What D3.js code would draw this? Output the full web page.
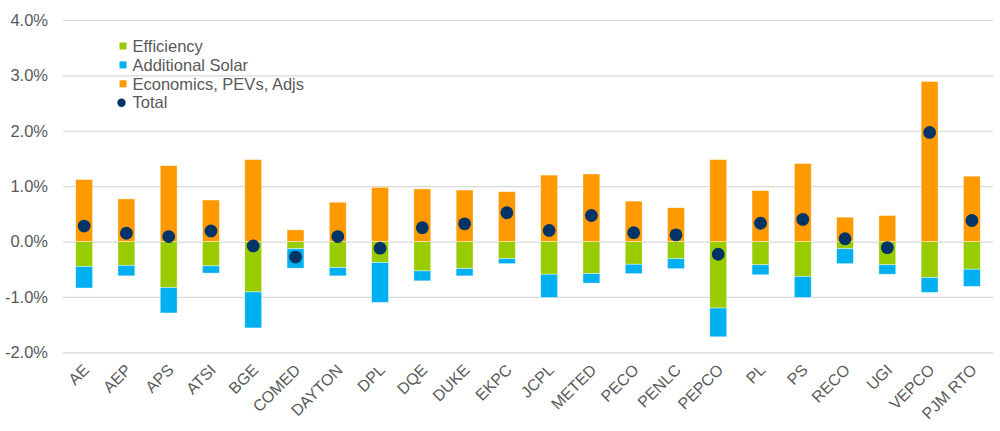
<!DOCTYPE html>
<html>
<head>
<meta charset="utf-8">
<script src="https://cdn.jsdelivr.net/npm/d3@7"></script>
<style>
  body { margin: 0; background: #fff; }
  text { font-family: Arial, "Liberation Sans", sans-serif; fill: #595959; }
</style>
</head>
<body>
<div id="chart"></div>
<script>
// zone names along the x axis
var zones = ['AE', 'AEP', 'APS', 'ATSI', 'BGE', 'COMED', 'DAYTON', 'DPL', 'DQE', 'DUKE', 'EKPC',
  'JCPL', 'METED', 'PECO', 'PENLC', 'PEPCO', 'PL', 'PS', 'RECO', 'UGI', 'VEPCO', 'PJM RTO']

// values in percent
var efficiency = [-0.45, -0.43, -0.83, -0.44, -0.91, -0.13, -0.47, -0.38, -0.53, -0.49, -0.31,
  -0.59, -0.58, -0.41, -0.31, -1.20, -0.42, -0.63, -0.13, -0.42, -0.65, -0.50]
var solar = [-0.39, -0.19, -0.46, -0.13, -0.65, -0.35, -0.15, -0.72, -0.18, -0.13, -0.09,
  -0.42, -0.17, -0.17, -0.18, -0.52, -0.18, -0.38, -0.27, -0.17, -0.27, -0.31]
var economics = [1.12, 0.77, 1.37, 0.75, 1.48, 0.21, 0.71, 0.98, 0.95, 0.93, 0.90,
  1.20, 1.22, 0.73, 0.61, 1.48, 0.92, 1.41, 0.44, 0.47, 2.89, 1.18]
var total = [0.28, 0.15, 0.09, 0.19, -0.08, -0.28, 0.09, -0.12, 0.25, 0.32, 0.52,
  0.20, 0.47, 0.16, 0.12, -0.23, 0.33, 0.40, 0.05, -0.11, 1.97, 0.38]

var yTicks = [-2, -1, 0, 1, 2, 3, 4]

var seriesNames = ['Efficiency', 'Additional Solar', 'Economics, PEVs, Adjs', 'Total']
var colors = { eff: '#99CC00', sol: '#00B0F0', eco: '#FF9900', tot: '#003366' }

var width = 1000
var height = 431

var rows = zones.map(function (z, i) {
  return { zone: z, eff: efficiency[i], sol: solar[i], eco: economics[i], tot: total[i] }
})

var x = d3.scaleBand().domain(zones).range([63, 993]).paddingInner(0.6).paddingOuter(0.3)
var y = d3.scaleLinear().domain([-2, 4]).range([352.3, 20])

var svg = d3.select('#chart').append('svg')
  .attr('width', width)
  .attr('height', height)

// gridlines + y labels
var yAxis = d3.axisLeft(y).tickValues(yTicks)
  .tickFormat(function (d) { return d.toFixed(1) + '%' })
  .tickSize(-(993 - 63)).tickPadding(15)

var gy = svg.append('g').attr('transform', 'translate(63,0)').call(yAxis)
gy.select('.domain').remove()
gy.selectAll('line').attr('stroke', '#D9D9D9').attr('stroke-width', 1.2)
gy.selectAll('text').attr('font-size', '16.5px').attr('fill', '#595959')

// stacked bars
var stack = d3.stack().keys(['eff', 'sol', 'eco']).offset(d3.stackOffsetDiverging)
var layers = stack(rows)

svg.append('g').selectAll('g')
  .data(layers)
  .join('g')
  .attr('fill', function (d) { return colors[d.key] })
  .selectAll('rect')
  .data(function (d) { return d })
  .join('rect')
  .attr('x', function (d) { return x(d.data.zone) })
  .attr('width', x.bandwidth())
  .attr('y', function (d) { return y(Math.max(d[0], d[1])) })
  .attr('height', function (d) { return Math.abs(y(d[0]) - y(d[1])) })
  .attr('stroke', '#fff')
  .attr('stroke-opacity', 0.6)
  .attr('stroke-width', 0.7)

// total dots
svg.append('g').selectAll('circle')
  .data(rows)
  .join('circle')
  .attr('cx', function (d) { return x(d.zone) + x.bandwidth() / 2 })
  .attr('cy', function (d) { return y(d.tot) })
  .attr('r', 6.4)
  .attr('fill', colors.tot)

// x labels
svg.append('g').selectAll('text')
  .data(zones)
  .join('text')
  .attr('text-anchor', 'end')
  .attr('font-size', '16px')
  .attr('transform', function (d) {
    return 'translate(' + (x(d) + x.bandwidth() / 2 + 6) + ',371) rotate(-45)'
  })
  .text(function (d) { return d })

// legend
var legend = svg.append('g')
var keys = ['eff', 'sol', 'eco', 'tot']
keys.forEach(function (k, i) {
  var cy = 46 + i * 18.9
  if (k === 'tot') {
    legend.append('circle').attr('cx', 121.5).attr('cy', cy).attr('r', 4.2).attr('fill', colors[k])
  } else {
    legend.append('rect').attr('x', 119.5).attr('y', cy - 3.5).attr('width', 7).attr('height', 7).attr('fill', colors[k])
  }
  legend.append('text')
    .attr('x', 132.5)
    .attr('y', cy)
    .attr('dy', '0.35em')
    .attr('font-size', '16.5px')
    .text(seriesNames[i])
})
</script>
</body>
</html>
